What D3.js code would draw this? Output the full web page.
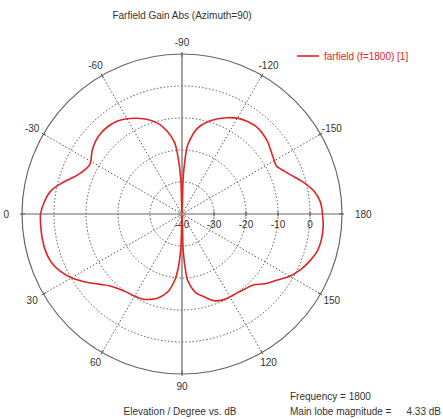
<!DOCTYPE html>
<html>
<head>
<meta charset="utf-8">
<script src="https://cdn.jsdelivr.net/npm/d3@7"></script>
<style>
    body { margin: 0; background: #fff; }
    svg text { font-family: "Liberation Sans", Arial, sans-serif; fill: #333; }
</style>
</head>
<body>
<div id="chart"></div>
<script>

// elevation angle (deg) and farfield gain (dB)
const angles = [-180,-175,-170,-165,-160,-155,-153,-150,-145,-140,-135,-130,-125,-120,-115,-110,-105,-100,-95,-94,-92,-90,
    -88,-86,-84,-80,-75,-70,-65,-60,-55,-50,-45,-40,-35,-30,-28,-25,-20,-15,-10,-5,
    0,5,10,15,20,25,30,35,40,45,50,55,60,65,70,75,80,84,86,88,90,
    92,94,95,100,105,110,115,120,125,130,135,140,145,150,155,160,165,170,175];

const gains = [3.9,3.4,1.8,-1.0,-4.0,-6.3,-6.9,-6.7,-6.0,-5.0,-4.4,-4.2,-4.6,-5.4,-6.8,-8.4,-10.3,-12.9,-18,-20,-28,-40,
    -29,-22,-17.5,-13.8,-10.6,-8.6,-7.0,-5.6,-4.6,-4.2,-4.2,-4.7,-5.7,-7.1,-7.3,-6.8,-4.9,-1.6,1.6,3.2,
    4.2,4.3,4.33,4.2,3.6,2.1,-0.1,-3.0,-5.9,-8.2,-9.4,-10.1,-10.4,-10.7,-11.6,-13.1,-15.5,-19.5,-23,-29,-40,
    -28,-21,-19,-15,-13.2,-11.2,-10.3,-10.1,-9.9,-9.4,-8.6,-6.1,-3.9,-1.1,1.0,2.6,3.9,4.3,4.3];

const spokeAngles = [-150,-120,-90,-60,-30,0,30,60,90,120,150,180];
const ringValues = [-30,-20,-10,0];
const radialTicks = [-40,-30,-20,-10,0];

const width = 443, height = 419;
const cx = 182, cy = 214, outerR = 160;

const svg = d3.select("#chart").append("svg")
    .attr("width", width)
    .attr("height", height);

// radial scale: centre is -40 dB, outer ring +10 dB
const r = d3.scaleLinear().domain([-40, 10]).range([0, outerR]).clamp(true);

// 0 deg on the left, 90 deg at the bottom, 180 deg on the right
function px(a, rad) { return cx - rad * Math.cos(a * Math.PI / 180); }
function py(a, rad) { return cy + rad * Math.sin(a * Math.PI / 180); }

const g = svg.append("g");

// dotted rings
g.selectAll(".ring")
    .data(ringValues)
    .enter()
    .append("circle")
    .attr("class", "ring")
    .attr("cx", cx)
    .attr("cy", cy)
    .attr("r", d => r(d))
    .attr("fill", "none")
    .attr("stroke", "#555")
    .attr("stroke-width", 1)
    .attr("stroke-dasharray", "1.5,2");

// dotted spokes (the 0/90/180 axes are solid)
g.selectAll(".spoke")
    .data(spokeAngles.filter(d => d % 90 !== 0))
    .enter()
    .append("line")
    .attr("class", "spoke")
    .attr("x1", cx)
    .attr("y1", cy)
    .attr("x2", d => px(d, outerR))
    .attr("y2", d => py(d, outerR))
    .attr("stroke", "#555")
    .attr("stroke-dasharray", "1.5,2");

// outer circle
g.append("circle")
    .attr("cx", cx)
    .attr("cy", cy)
    .attr("r", outerR)
    .attr("fill", "none")
    .attr("stroke", "#666")
    .attr("stroke-width", 1.2);

// solid axes
g.append("line")
    .attr("x1", cx - outerR).attr("y1", cy)
    .attr("x2", cx + outerR).attr("y2", cy)
    .attr("stroke", "#666").attr("stroke-width", 1.2);
g.append("line")
    .attr("x1", cx).attr("y1", cy - outerR)
    .attr("x2", cx).attr("y2", cy + outerR)
    .attr("stroke", "#666").attr("stroke-width", 1.2);

// little ticks on the outer ring
g.selectAll(".outerTick")
    .data(spokeAngles)
    .enter()
    .append("line")
    .attr("class", "outerTick")
    .attr("x1", d => px(d, outerR - 3))
    .attr("y1", d => py(d, outerR - 3))
    .attr("x2", d => px(d, outerR + 2))
    .attr("y2", d => py(d, outerR + 2))
    .attr("stroke", "#555");

// ticks on the 180 axis for the dB values
g.selectAll(".dbTick")
    .data(radialTicks.filter(d => d > -40))
    .enter()
    .append("line")
    .attr("class", "dbTick")
    .attr("x1", d => cx + r(d))
    .attr("x2", d => cx + r(d))
    .attr("y1", cy - 2.5)
    .attr("y2", cy + 2.5)
    .attr("stroke", "#555");

// angle labels
g.selectAll(".angleLabel")
    .data(spokeAngles)
    .enter()
    .append("text")
    .attr("class", "angleLabel")
    .attr("x", d => px(d, outerR + 13))
    .attr("y", d => py(d, outerR + 12) + 3.5)
    .attr("text-anchor", d => d === 0 ? "end" : (d === 180 ? "start" : "middle"))
    .attr("font-size", 10)
    .text(d => d);

// dB labels along the axis
g.selectAll(".dbLabel")
    .data(radialTicks)
    .enter()
    .append("text")
    .attr("class", "dbLabel")
    .attr("x", d => cx + r(d))
    .attr("y", cy + 14)
    .attr("text-anchor", "middle")
    .attr("font-size", 10)
    .text(d => d);

// centre marker
g.append("circle")
    .attr("cx", cx).attr("cy", cy).attr("r", 2.5)
    .attr("fill", "#bbb").attr("stroke", "#888");

// farfield curve
const pattern = angles.map((a, i) => ({angle: a, db: gains[i]}));

const line = d3.lineRadial()
    .angle(d => -(d.angle + 90) * Math.PI / 180)
    .radius(d => r(d.db))
    .curve(d3.curveCatmullRomClosed.alpha(0.5));

g.append("path")
    .datum(pattern)
    .attr("transform", `translate(${cx},${cy})`)
    .attr("d", line)
    .attr("fill", "none")
    .attr("stroke", "#e02424")
    .attr("stroke-width", 1.6);

// title
svg.append("text")
    .attr("x", 182)
    .attr("y", 19)
    .attr("text-anchor", "middle")
    .attr("font-size", 10)
    .text("Farfield Gain Abs (Azimuth=90)");

// legend
svg.append("line")
    .attr("x1", 297).attr("x2", 319)
    .attr("y1", 56).attr("y2", 56)
    .attr("stroke", "#e02424").attr("stroke-width", 1.6);
svg.append("text")
    .attr("x", 324)
    .attr("y", 59.5)
    .attr("font-size", 10)
    .style("fill", "#e02424")
    .text("farfield (f=1800) [1]");

// bottom notes
svg.append("text")
    .attr("x", 180)
    .attr("y", 415)
    .attr("text-anchor", "middle")
    .attr("font-size", 10)
    .text("Elevation / Degree vs. dB");
svg.append("text")
    .attr("x", 290)
    .attr("y", 400)
    .attr("font-size", 10)
    .text("Frequency = 1800");
svg.append("text")
    .attr("x", 290)
    .attr("y", 415)
    .attr("font-size", 10)
    .text("Main lobe magnitude =");
svg.append("text")
    .attr("x", 441)
    .attr("y", 415)
    .attr("text-anchor", "end")
    .attr("font-size", 10)
    .text("4.33 dB");

</script>
</body>
</html>
